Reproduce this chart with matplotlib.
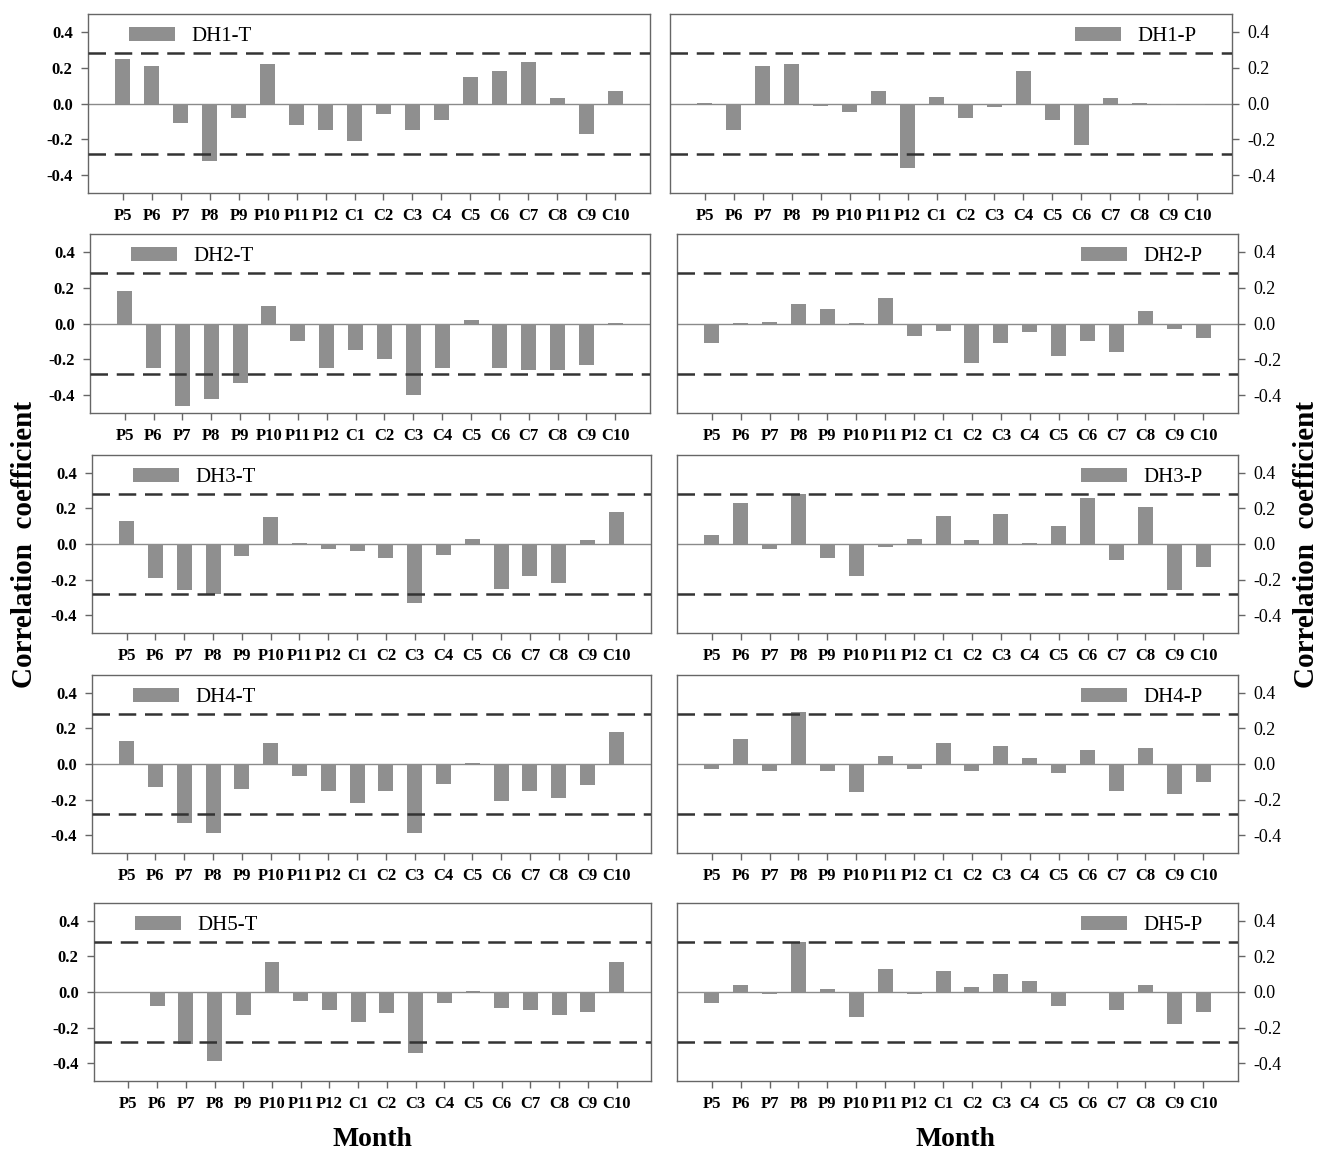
import matplotlib
matplotlib.use("Agg")
import matplotlib.pyplot as plt
import numpy as np

plt.rcParams['font.family'] = ['Liberation Serif', 'DejaVu Serif']

months = ["P5", "P6", "P7", "P8", "P9", "P10", "P11", "P12",
          "C1", "C2", "C3", "C4", "C5", "C6", "C7", "C8", "C9", "C10"]

# temperature correlations (left column)
dh1_t = [0.25, 0.21, -0.11, -0.32, -0.08, 0.22, -0.12, -0.15, -0.21,
         -0.06, -0.15, -0.09, 0.15, 0.18, 0.23, 0.03, -0.17, 0.07]
dh2_t = [0.18, -0.25, -0.46, -0.42, -0.33, 0.10, -0.10, -0.25, -0.15,
         -0.20, -0.40, -0.25, 0.02, -0.25, -0.26, -0.26, -0.23, 0.005]
dh3_t = [0.13, -0.19, -0.26, -0.28, -0.07, 0.15, 0.005, -0.03, -0.04,
         -0.08, -0.33, -0.06, 0.03, -0.25, -0.18, -0.22, 0.02, 0.18]
dh4_t = [0.13, -0.13, -0.33, -0.39, -0.14, 0.12, -0.07, -0.15, -0.22,
         -0.15, -0.39, -0.11, 0.005, -0.21, -0.15, -0.19, -0.12, 0.18]
dh5_t = [0.0, -0.08, -0.29, -0.39, -0.13, 0.17, -0.05, -0.10, -0.17,
         -0.12, -0.34, -0.06, 0.003, -0.09, -0.10, -0.13, -0.11, 0.17]

# precipitation correlations (right column)
dh1_p = [0.005, -0.15, 0.21, 0.22, -0.015, -0.05, 0.07, -0.36, 0.035,
         -0.08, -0.02, 0.18, -0.09, -0.23, 0.03, 0.002, -0.01, -0.01]
dh2_p = [-0.11, 0.002, 0.01, 0.11, 0.08, 0.005, 0.14, -0.07, -0.04,
         -0.22, -0.11, -0.05, -0.18, -0.10, -0.16, 0.07, -0.03, -0.08]
dh3_p = [0.05, 0.23, -0.03, 0.28, -0.08, -0.18, -0.015, 0.03, 0.16,
         0.02, 0.17, 0.003, 0.10, 0.26, -0.09, 0.21, -0.26, -0.13]
dh4_p = [-0.03, 0.14, -0.04, 0.29, -0.04, -0.16, 0.045, -0.03, 0.12,
         -0.04, 0.10, 0.035, -0.05, 0.08, -0.15, 0.09, -0.17, -0.10]
dh5_p = [-0.06, 0.04, -0.01, 0.28, 0.015, -0.14, 0.13, -0.01, 0.12,
         0.03, 0.10, 0.06, -0.08, 0.002, -0.10, 0.04, -0.18, -0.11]

t_series = [("DH1-T", dh1_t), ("DH2-T", dh2_t), ("DH3-T", dh3_t),
            ("DH4-T", dh4_t), ("DH5-T", dh5_t)]
p_series = [("DH1-P", dh1_p), ("DH2-P", dh2_p), ("DH3-P", dh3_p),
            ("DH4-P", dh4_p), ("DH5-P", dh5_p)]
threshold = 0.28

W, H = 1328, 1154
fig = plt.figure(figsize=(W / 100, H / 100), dpi=100)

# panel boxes in pixels: (top, bottom) and (left, right)
rows_px = [(14, 193), (234, 413), (455, 633), (675, 853), (903, 1081)]
left_px = [(88, 650), (90, 650), (92, 651), (92, 651), (94, 651)]
right_px = [(670, 1232), (677, 1238), (677, 1238), (677, 1238), (677, 1238)]

bar_color = "#8f8f8f"
x = np.arange(len(months))


def draw_panel(ax, label, values, side):
    ax.bar(x, values, width=0.52, color=bar_color, label=label, zorder=2)
    ax.axhline(0, color="#8a8a8a", lw=1.0, zorder=1)
    for y in (threshold, -threshold):
        ax.axhline(y, color="#333333", lw=1.8, ls=(0, (7, 3.5)), zorder=3)
    ax.set_xlim(-1.2, len(months) - 1 + 1.2)
    ax.set_ylim(-0.5, 0.5)
    ax.set_yticks([-0.4, -0.2, 0.0, 0.2, 0.4])
    ax.set_yticklabels(["-0.4", "-0.2", "0.0", "0.2", "0.4"])
    ax.set_xticks(x)
    ax.set_xticklabels(months, fontweight="bold", fontsize=12)
    for s in ax.spines.values():
        s.set_color("#666666")
        s.set_linewidth(1.0)
    ax.tick_params(axis="both", direction="out", length=5, width=1,
                   color="#666666", pad=6)
    if side == "left":
        ax.tick_params(axis="y", labelsize=12)
        for t in ax.get_yticklabels():
            t.set_fontweight("bold")
        ax.legend(loc="upper left", bbox_to_anchor=(0.04, 1.03),
                  frameon=False, fontsize=15, handlelength=2.2,
                  handleheight=0.6, handletextpad=0.8)
    else:
        ax.yaxis.tick_right()
        ax.tick_params(axis="y", labelsize=13)
        ax.legend(loc="upper right", bbox_to_anchor=(0.97, 1.03),
                  frameon=False, fontsize=15, handlelength=2.2,
                  handleheight=0.6, handletextpad=0.8)


for i, (top, bot) in enumerate(rows_px):
    for (x0, x1), (label, vals), side in ((left_px[i], t_series[i], "left"),
                                          (right_px[i], p_series[i], "right")):
        ax = fig.add_axes([x0 / W, 1 - bot / H, (x1 - x0) / W, (bot - top) / H])
        draw_panel(ax, label, vals, side)

fig.text(25 / W, 1 - 545 / H, "Correlation  coefficient", rotation=90,
         ha="center", va="center", fontsize=21, fontweight="bold")
fig.text(1307 / W, 1 - 545 / H, "Correlation  coefficient", rotation=90,
         ha="center", va="center", fontsize=21, fontweight="bold")
fig.text(372 / W, 1 - 1140 / H, "Month", ha="center", va="center",
         fontsize=20, fontweight="bold")
fig.text(955 / W, 1 - 1140 / H, "Month", ha="center", va="center",
         fontsize=20, fontweight="bold")

fig.savefig("out.png", dpi=100)
